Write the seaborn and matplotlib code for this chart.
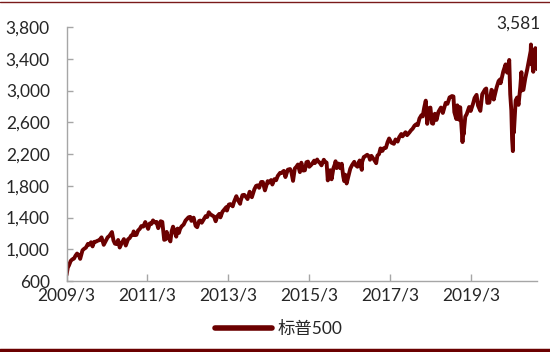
import matplotlib
matplotlib.use("Agg")
import matplotlib.pyplot as plt
import seaborn as sns
import pandas as pd

dates = [
 "2009-03-09","2009-03-20","2009-03-31","2009-04-15","2009-04-30","2009-05-15","2009-05-29","2009-06-12","2009-06-30","2009-07-10","2009-07-31","2009-08-14","2009-08-31","2009-09-18","2009-09-30","2009-10-16","2009-10-30","2009-11-13","2009-11-30","2009-12-15","2009-12-31",
 "2010-01-19","2010-02-08","2010-02-26","2010-03-15","2010-03-31","2010-04-23","2010-05-07","2010-05-20","2010-06-04","2010-06-18","2010-07-02","2010-07-16","2010-07-30","2010-08-09","2010-08-26","2010-09-15","2010-09-30","2010-10-15","2010-10-29","2010-11-05","2010-11-16","2010-11-30","2010-12-15","2010-12-31",
 "2011-01-14","2011-01-31","2011-02-18","2011-03-16","2011-03-31","2011-04-15","2011-04-29","2011-05-13","2011-05-31","2011-06-15","2011-06-30","2011-07-07","2011-07-22","2011-08-08","2011-08-19","2011-08-31","2011-09-09","2011-09-22","2011-10-03","2011-10-14","2011-10-27","2011-11-09","2011-11-25","2011-12-07","2011-12-19","2011-12-30",
 "2012-01-13","2012-01-31","2012-02-17","2012-03-15","2012-03-30","2012-04-10","2012-04-30","2012-05-18","2012-06-01","2012-06-19","2012-06-29","2012-07-12","2012-07-31","2012-08-17","2012-08-31","2012-09-14","2012-09-28","2012-10-12","2012-10-31","2012-11-15","2012-11-30","2012-12-18","2012-12-28",
 "2013-01-15","2013-01-31","2013-02-19","2013-02-25","2013-03-14","2013-03-28","2013-04-18","2013-04-30","2013-05-21","2013-05-31","2013-06-24","2013-06-28","2013-07-15","2013-07-31","2013-08-15","2013-08-30","2013-09-18","2013-10-08","2013-10-31","2013-11-15","2013-11-29","2013-12-13","2013-12-31",
 "2014-01-15","2014-02-03","2014-02-28","2014-03-14","2014-03-31","2014-04-11","2014-04-30","2014-05-15","2014-05-30","2014-06-20","2014-06-30","2014-07-24","2014-08-07","2014-08-29","2014-09-18","2014-09-30","2014-10-15","2014-10-31","2014-11-14","2014-11-28","2014-12-16","2014-12-29",
 "2015-01-15","2015-01-30","2015-02-13","2015-02-27","2015-03-11","2015-03-31","2015-04-24","2015-04-30","2015-05-21","2015-05-29","2015-06-12","2015-06-29","2015-07-20","2015-07-31","2015-08-14","2015-08-25","2015-08-31","2015-09-16","2015-09-28","2015-10-15","2015-10-30","2015-11-03","2015-11-13","2015-11-30","2015-12-14","2015-12-29",
 "2016-01-11","2016-01-20","2016-01-29","2016-02-11","2016-02-29","2016-03-15","2016-03-31","2016-04-20","2016-04-29","2016-05-19","2016-05-31","2016-06-08","2016-06-27","2016-06-30","2016-07-15","2016-07-29","2016-08-15","2016-08-31","2016-09-09","2016-09-22","2016-10-14","2016-11-04","2016-11-15","2016-11-30","2016-12-13","2016-12-30",
 "2017-01-13","2017-01-31","2017-02-15","2017-03-01","2017-03-21","2017-04-13","2017-04-28","2017-05-17","2017-05-31","2017-06-19","2017-06-30","2017-07-27","2017-08-10","2017-08-31","2017-09-15","2017-09-29","2017-10-16","2017-10-31","2017-11-15","2017-11-30","2017-12-18","2017-12-29",
 "2018-01-12","2018-01-26","2018-02-08","2018-02-26","2018-03-09","2018-03-23","2018-04-02","2018-04-18","2018-05-03","2018-05-21","2018-06-12","2018-06-29","2018-07-25","2018-08-10","2018-08-29","2018-09-20","2018-10-03","2018-10-11","2018-10-29","2018-11-07","2018-11-23","2018-12-03","2018-12-24","2018-12-31",
 "2019-01-03","2019-01-18","2019-01-31","2019-02-22","2019-03-08","2019-03-29","2019-04-12","2019-04-30","2019-05-13","2019-05-31","2019-06-03","2019-06-20","2019-07-15","2019-07-26","2019-08-05","2019-08-23","2019-09-12","2019-09-30","2019-10-02","2019-10-28","2019-11-15","2019-11-29","2019-12-03","2019-12-27",
 "2020-01-17","2020-01-31","2020-02-19","2020-02-28","2020-03-09","2020-03-16","2020-03-23","2020-03-26","2020-04-01","2020-04-17","2020-04-30","2020-05-13","2020-05-29","2020-06-08","2020-06-11","2020-06-26","2020-07-13","2020-07-31","2020-08-14","2020-08-31","2020-09-02","2020-09-08","2020-09-14","2020-09-23","2020-10-12","2020-10-21","2020-10-28","2020-10-30",
]
values = [
 677,768,798,852,873,882,919,946,919,879,987,1005,1021,1068,1057,1088,1036,1093,1096,1108,1115,
 1150,1056,1104,1150,1169,1217,1111,1071,1065,1117,1022,1065,1102,1128,1047,1125,1141,1176,1183,1225,1178,1181,1236,1258,
 1293,1286,1343,1257,1326,1320,1364,1338,1345,1266,1321,1353,1345,1119,1124,1219,1154,1129,1099,1225,1285,1229,1159,1261,1206,1258,
 1289,1312,1362,1403,1408,1358,1398,1295,1278,1357,1362,1334,1379,1418,1407,1466,1441,1428,1412,1353,1416,1446,1402,
 1472,1498,1531,1488,1563,1569,1541,1598,1669,1631,1573,1606,1682,1686,1661,1633,1725,1656,1757,1798,1806,1775,1848,
 1848,1742,1859,1841,1872,1816,1884,1870,1924,1963,1960,1988,1910,2003,2011,1972,1862,2018,2039,2068,1972,2091,
 1992,1995,2097,2105,2040,2068,2117,2086,2131,2107,2094,2058,2128,2104,2092,1868,1972,1996,1882,2023,2079,2109,2023,2080,2022,2078,
 1923,1859,1940,1829,1932,2015,2060,2102,2065,2040,2097,2119,2001,2099,2162,2174,2191,2171,2128,2177,2133,2085,2180,2199,2271,2239,
 2275,2279,2350,2396,2344,2329,2384,2357,2412,2453,2423,2475,2438,2472,2500,2519,2557,2575,2565,2648,2690,2674,
 2786,2873,2581,2780,2786,2588,2582,2708,2630,2733,2786,2718,2846,2833,2914,2931,2926,2729,2641,2814,2633,2790,2351,2507,
 2448,2671,2704,2793,2743,2834,2907,2946,2812,2752,2744,2954,3014,3026,2845,2847,3010,2977,2887,3039,3120,3141,3093,3240,
 3330,3226,3386,2954,2747,2386,2237,2630,2471,2875,2912,2820,3044,3232,3002,3009,3155,3271,3373,3500,3581,3332,3383,3237,3535,3436,3271,3270,
]
series_name = "标普500"
peak_label = "3,581"
y_ticks = [600, 1000, 1400, 1800, 2200, 2600, 3000, 3400, 3800]
x_tick_dates = ["2009-03-09", "2011-03-09", "2013-03-09", "2015-03-09", "2017-03-09", "2019-03-09"]
x_tick_labels = ["2009/3", "2011/3", "2013/3", "2015/3", "2017/3", "2019/3"]

df = pd.DataFrame({"date": pd.to_datetime(dates), "value": values, "series": series_name})

sns.set_theme(style="white")
plt.rcParams["font.family"] = ["Lato", "Noto Sans CJK SC", "DejaVu Sans"]

line_color = "#6B0000"
text_color = "#262626"
axis_color = "#A6A6A6"
fs = 12.5

fig = plt.figure(figsize=(5.5, 3.52), dpi=100)
ax = fig.add_axes([0.121, 0.2017, 0.856, 0.7213])

sns.lineplot(data=df, x="date", y="value", hue="series", palette=[line_color],
             linewidth=2.8, ax=ax, legend=True)

ax.set_xlim(df["date"].iloc[0], df["date"].iloc[-1])
ax.set_ylim(600, 3800)
ax.set_yticks(y_ticks)
ax.set_yticklabels([f"{v:,}" for v in y_ticks])
ax.set_xticks(pd.to_datetime(x_tick_dates))
ax.set_xticklabels(x_tick_labels)
ax.set_xlabel("")
ax.set_ylabel("")

for s in ["top", "right"]:
    ax.spines[s].set_visible(False)
for s in ["left", "bottom"]:
    ax.spines[s].set_color(axis_color)
    ax.spines[s].set_linewidth(1.0)

ax.tick_params(axis="y", direction="in", length=4, width=1, color=axis_color,
               pad=12, labelsize=fs, labelcolor=text_color, left=True)
ax.tick_params(axis="x", direction="in", length=5, width=1, color=axis_color,
               pad=5, labelsize=fs, labelcolor=text_color, bottom=True)

peak_idx = values.index(max(values))
ax.annotate(peak_label, xy=(df["date"].iloc[peak_idx], values[peak_idx]),
            xytext=(-12, 21), textcoords="offset pixels", ha="center", va="center",
            fontsize=fs, color=text_color)

leg = ax.legend(loc="center", bbox_to_anchor=(0.451, -0.19), frameon=False,
                fontsize=fs, handlelength=3.3, handletextpad=0.3)
for t in leg.get_texts():
    t.set_color(text_color)
for h in leg.get_lines():
    h.set_linewidth(4)

fig.add_artist(plt.Line2D([0, 1], [1 - 2/352, 1 - 2/352], transform=fig.transFigure,
                          color="#7A1A1A", linewidth=1.0))
fig.add_artist(plt.Line2D([0, 1], [2/352, 2/352], transform=fig.transFigure,
                          color=line_color, linewidth=2.5))

fig.savefig("out.png", dpi=100)
